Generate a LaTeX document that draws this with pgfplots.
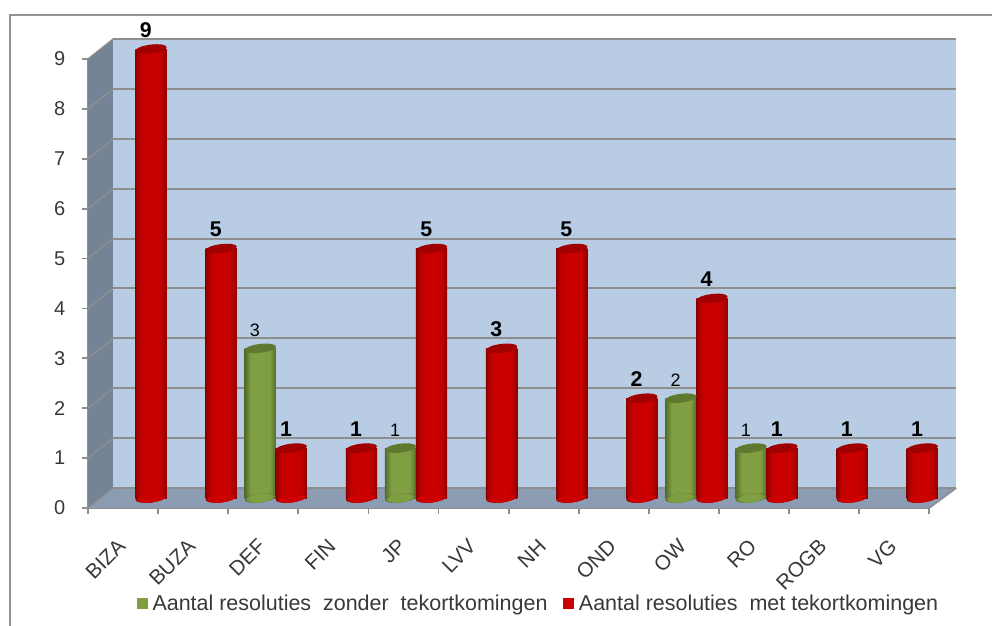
\documentclass[border=0pt]{standalone}
\usepackage{pgfplots}
\pgfplotsset{compat=1.18}
\usepackage{pgfplotstable}
\usepackage{fontspec}
\setmainfont{Liberation Sans}
\definecolor{wallback}{HTML}{B8CCE4}
\definecolor{wallside}{HTML}{748396}
\definecolor{wallfloor}{HTML}{8C9DB3}
\definecolor{gridc}{HTML}{8E8E8E}
\definecolor{axisc}{HTML}{8E8E8E}
\definecolor{redtop}{HTML}{A00000}
\definecolor{greentop}{HTML}{5F7A30}
\definecolor{txt}{HTML}{383838}
\definecolor{rD}{HTML}{8C0000}
\definecolor{rM}{HTML}{CC0000}
\definecolor{gD}{HTML}{546B2B}
\definecolor{gM}{HTML}{7F9F42}
\pgfdeclarehorizontalshading{redcyl}{100bp}{color(0bp)=(rD); color(25bp)=(rD); color(33bp)=(rM!95!black); color(50bp)=(rM); color(66bp)=(rM!95!black); color(75bp)=(rD); color(100bp)=(rD)}
\pgfdeclarehorizontalshading{greencyl}{100bp}{color(0bp)=(gD); color(25bp)=(gD); color(35bp)=(gM); color(50bp)=(gM); color(65bp)=(gM); color(75bp)=(gD); color(100bp)=(gD)}
\newcommand\cylell[2]{\pgfsetfillcolor{#2}\pgfpathellipse{\pgfpointorigin}{\pgfpoint{#1}{0pt}}{\pgfpoint{0pt}{3.3pt}}\pgfusepath{fill}}
\pgfdeclareplotmark{rtop}{\pgftransformrotate{7}\cylell{11.8pt}{redtop}}
\pgfdeclareplotmark{gtop}{\pgftransformrotate{7}\cylell{11.8pt}{greentop}}
\pgfdeclareplotmark{rbase}{\pgftransformrotate{7}\cylell{11.8pt}{rD}\cylell{11pt}{rM!85!rD}\cylell{10pt}{rM!95!rD}\cylell{8.5pt}{rM}}
\pgfdeclareplotmark{gbase}{\pgftransformrotate{7}\cylell{11.8pt}{gD}\cylell{11pt}{gM!60!gD}\cylell{10pt}{gM!85!gD}\cylell{8.5pt}{gM}}
\pgfplotstableread{
i v
2 3
4 1
8 2
9 1
}\greendata
\pgfplotstableread{
i v
0 9
1 5
2 1
3 1
4 5
5 3
6 5
7 2
8 4
9 1
10 1
11 1
}\reddata
\begin{document}
\begin{tikzpicture}
\useasboundingbox (0,0) rectangle (744pt,468.75pt);
\draw[line width=1.5pt,color=gray!85] (7.5pt,-2pt) -- (7.5pt,457.5pt) -- (746pt,457.5pt);
\begin{axis}[
  at={(66pt,87.75pt)},anchor=south west,scale only axis,
  width=631pt,height=336.75pt,
  xmin=0,xmax=12,ymin=0,ymax=9,clip=false,
  axis x line*=bottom,axis y line*=left,
  axis line style={draw=axisc,line width=1.3pt,-},
  xtick={0.5,1.5,...,11.5},
  xticklabels={BIZA,BUZA,DEF,FIN,JP,LVV,NH,OND,OW,RO,ROGB,VG},
  minor xtick={0,1,...,12},
  major x tick style={draw=none},
  minor x tick style={draw=axisc,line width=1.3pt},
  minor tick length=4.5pt,
  ytick={0,...,9},
  y tick style={draw=axisc,line width=1.3pt},
  major tick length=4.5pt,
  tick align=outside,
  /pgf/number format/assume math mode=true,
  tick label style={font=\fontsize{15}{17}\selectfont,text=txt},
  yticklabel style={xshift=-9pt},
  xticklabel style={font=\fontsize{15.5}{17}\selectfont,rotate=45,anchor=east,yshift=-14.6pt,xshift=-12.6pt},
]
% walls
\addplot[draw=none,fill=wallside,forget plot] coordinates {(0,0)(0,9)(0.357,9.4)(0.357,0.4)};
\addplot[draw=none,fill=wallback,forget plot] coordinates {(0.357,0.4)(0.357,9.4)(12.385,9.4)(12.385,0.4)};
\addplot[draw=none,fill=wallfloor,forget plot] coordinates {(0,0)(0.357,0.4)(12.385,0.4)(12,0)};
% back grid
\foreach \y in {0.4,1.4,...,9.4}{
\edef\tmp{\noexpand\addplot[draw=gridc,line width=1.5pt,forget plot] coordinates {(0.357,\y)(12.385,\y)};}\tmp}
% side grid
\foreach \y in {0,1,...,9}{
\pgfmathsetmacro\yy{\y+0.4}
\edef\tmp{\noexpand\addplot[draw=gridc,line width=1.1pt,forget plot] coordinates {(0,\y)(0.357,\yy)};}\tmp}
\addplot[draw=gridc,line width=1.1pt,forget plot] coordinates {(12,0)(12.385,0.4)};
\end{axis}
\begin{axis}[
  at={(75.4pt,95.25pt)},anchor=south west,scale only axis,
  width=631pt,height=336.75pt,
  xmin=-0.5,xmax=11.5,ymin=0,ymax=9,clip=false,
  axis lines=none,
  legend style={at={(rel axis cs:0,0)},anchor=west,xshift=24.2pt,yshift=-79pt,draw=none,fill=none,legend columns=2,
    font=\fontsize{16.1}{18}\selectfont,text=txt,/tikz/every even column/.append style={column sep=10pt}},
  legend cell align=left,
]
\addlegendimage{legend image code/.code={\fill[color=gM] (0pt,-3.7pt) rectangle (7.5pt,3.7pt);\path (9.2pt,0pt);}}
\addlegendentry{Aantal resoluties \ zonder \ tekortkomingen}
\addlegendimage{legend image code/.code={\fill[color=rM] (0pt,-3.7pt) rectangle (7.5pt,3.7pt);\path (9.2pt,0pt);}}
\addlegendentry{Aantal resoluties \ met tekortkomingen}
\addplot[draw=none,mark=gbase,only marks,forget plot] table[x expr=\thisrow{i}-0.221,y expr=0] {\greendata};
\foreach \x/\v in {1.779/3,3.779/1,7.779/2,8.779/1}{
\edef\tmp{\noexpand\addplot[draw=none,ybar,bar shift=0pt,bar width=23.5pt,shading=greencyl,forget plot] coordinates {(\x,\v)};}\tmp}
\addplot[draw=none,mark=gtop,only marks,forget plot,
  nodes near coords={\pgfmathprintnumber[assume math mode=true]{\pgfplotspointmeta}},
  nodes near coords style={inner sep=0pt,anchor=south,font=\fontsize{13.5}{15}\selectfont,text=black,xshift=-4pt,yshift=8.5pt}] table[x expr=\thisrow{i}-0.221,y=v] {\greendata};
\addplot[draw=none,mark=rbase,only marks,forget plot] table[x expr=\thisrow{i}+0.221,y expr=0] {\reddata};
\foreach \x/\v in {0.221/9,1.221/5,2.221/1,3.221/1,4.221/5,5.221/3,6.221/5,7.221/2,8.221/4,9.221/1,10.221/1,11.221/1}{
\edef\tmp{\noexpand\addplot[draw=none,ybar,bar shift=0pt,bar width=23.5pt,shading=redcyl,forget plot] coordinates {(\x,\v)};}\tmp}
\addplot[draw=none,mark=rtop,only marks,forget plot,
  nodes near coords={\pgfmathprintnumber[assume math mode=true]{\pgfplotspointmeta}},
  nodes near coords style={inner sep=0pt,anchor=south,font=\bfseries\fontsize{16}{18}\selectfont,text=black,xshift=-4pt,yshift=8.5pt}] table[x expr=\thisrow{i}+0.221,y=v] {\reddata};
\end{axis}
\end{tikzpicture}
\end{document}
